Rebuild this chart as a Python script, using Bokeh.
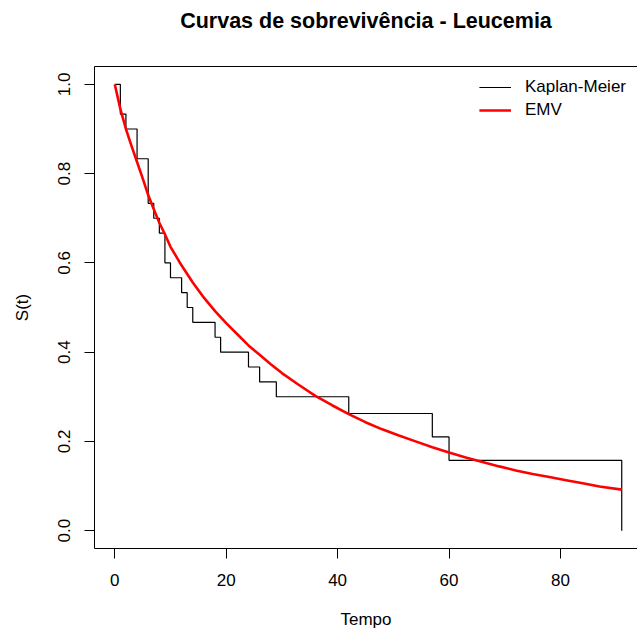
from bokeh.plotting import figure
from bokeh.models import FixedTicker, LinearAxis, Range1d, Legend, LegendItem, Title
from bokeh.embed import file_html
from bokeh.resources import INLINE

# Kaplan-Meier estimate
km_time = [0, 1, 2, 4, 6, 7, 8, 9, 10, 12, 13, 14, 18, 19, 24, 26, 29, 42, 57, 60, 91]
km_surv = [1.0, 0.9333, 0.9, 0.8333, 0.7333, 0.7, 0.6667, 0.6, 0.5667, 0.5333, 0.5,
           0.4667, 0.4333, 0.4, 0.3667, 0.3333, 0.3, 0.2625, 0.21, 0.1575, 0.0]

# Parametric (EMV) curve
emv_time = [0, 1, 2, 3, 4, 5, 6, 7, 8, 9, 10, 12, 14, 16, 18, 20, 22, 24, 26, 28, 30,
            33, 36, 39, 42, 45, 48, 51, 54, 57, 60, 63, 66, 69, 72, 75, 78, 81, 84, 87, 91]
emv_surv = [1.0, 0.945, 0.900, 0.862, 0.826, 0.790, 0.752, 0.720, 0.690, 0.664, 0.636,
            0.594, 0.556, 0.522, 0.492, 0.465, 0.440, 0.415, 0.394, 0.373, 0.353,
            0.327, 0.302, 0.281, 0.261, 0.243, 0.227, 0.213, 0.200, 0.187, 0.175,
            0.164, 0.154, 0.144, 0.135, 0.127, 0.120, 0.113, 0.106, 0.099, 0.092]

x_ticks = [0, 20, 40, 60, 80]
y_ticks = [0.0, 0.2, 0.4, 0.6, 0.8, 1.0]
y_tick_labels = ["0.0", "0.2", "0.4", "0.6", "0.8", "1.0"]

FONT = "Liberation Sans"

p = figure(width=637, height=631, output_backend="svg", toolbar_location=None,
           x_range=Range1d(-3.64, 93.83), y_range=Range1d(-0.04, 1.04),
           min_border_left=94, min_border_right=0, min_border_top=66, min_border_bottom=83)

p.title.text = "Curvas de sobrevivência - Leucemia"
p.title.align = "center"
p.title.text_font = FONT
p.title.text_font_size = "21.5px"
p.title.text_font_style = "bold"
p.title.text_color = "black"

p.xgrid.visible = False
p.ygrid.visible = False
p.outline_line_color = None
p.background_fill_color = "white"
p.border_fill_color = "white"

for ax in (p.xaxis[0], p.yaxis[0]):
    ax.axis_line_color = "black"
    ax.major_tick_line_color = "black"
    ax.major_tick_out = 10
    ax.major_tick_in = 0
    ax.minor_tick_out = 0
    ax.minor_tick_in = 0
    ax.major_label_text_font = FONT
    ax.major_label_text_font_size = "17px"
    ax.major_label_text_color = "black"
    ax.axis_label_text_font = FONT
    ax.axis_label_text_font_size = "17px"
    ax.axis_label_text_font_style = "normal"
    ax.axis_label_text_color = "black"

p.xaxis[0].ticker = FixedTicker(ticks=x_ticks)
p.xaxis[0].axis_label = "Tempo"
p.xaxis[0].major_label_standoff = 15
p.xaxis[0].axis_label_standoff = 21

p.yaxis[0].ticker = FixedTicker(ticks=y_ticks)
p.yaxis[0].major_label_overrides = {t: l for t, l in zip(y_ticks, y_tick_labels)}
p.yaxis[0].major_label_orientation = "parallel"
p.yaxis[0].axis_label = "S(t)"
p.yaxis[0].major_label_standoff = 14
p.yaxis[0].axis_label_standoff = 24

top_axis = LinearAxis(ticker=FixedTicker(ticks=[]), major_tick_out=0, major_tick_in=0,
                      minor_tick_out=0, minor_tick_in=0, major_label_standoff=0,
                      axis_line_color="black")
p.add_layout(top_axis, "above")
# empty spacer between the title and the plot box
p.add_layout(Title(text=" ", text_font_size="16px", text_font=FONT), "above")

km = p.step(km_time, km_surv, mode="after", line_color="black", line_width=1.2)
emv = p.line(emv_time, emv_surv, line_color="red", line_width=2.6)

legend = Legend(items=[LegendItem(label="Kaplan-Meier", renderers=[km]),
                       LegendItem(label="EMV", renderers=[emv])],
                location="top_right")
legend.border_line_alpha = 0
legend.background_fill_alpha = 0
legend.margin = 0
legend.padding = 11
legend.glyph_width = 32
legend.glyph_height = 20
legend.label_height = 20
legend.label_standoff = 14
legend.spacing = 3
legend.label_text_font = FONT
legend.label_text_font_size = "17px"
legend.label_text_color = "black"
p.add_layout(legend)

open("out.html", "w").write(file_html(p, INLINE))
